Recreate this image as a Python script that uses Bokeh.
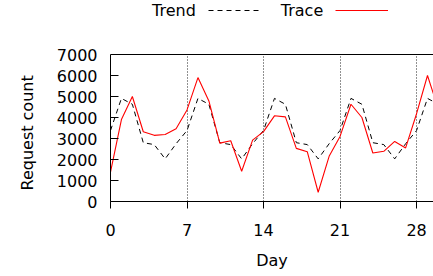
from bokeh.plotting import figure
from bokeh.models import FixedTicker, Range1d, Legend, LegendItem, Span, BoxAnnotation, Title
from bokeh.embed import file_html
from bokeh.resources import INLINE

days = list(range(31))
trace = [1400, 3900, 5000, 3320, 3150, 3190, 3460, 4360, 5900, 4790,
         2780, 2890, 1440, 2920, 3330, 4080, 4030, 2530, 2370, 440,
         2150, 3100, 4630, 4000, 2310, 2390, 2860, 2550, 4180, 6000, 4400]
trend = [3380, 4910, 4630, 2800, 2710, 2030, 2750,
         3380, 4910, 4630, 2800, 2710, 2030, 2750,
         3380, 4910, 4630, 2800, 2710, 2030, 2750,
         3380, 4910, 4630, 2800, 2710, 2030, 2750,
         3380, 4910, 4630]
x_ticks = [0, 7, 14, 21, 28]
y_ticks = [0, 1000, 2000, 3000, 4000, 5000, 6000, 7000]

FONT = "DejaVu Sans"

y_top = y_ticks[-1]
# frame reaches the canvas top; plotting area occupies 147 of 201 px
y_end = y_top * 201.0 / 147.0

p = figure(width=433, height=276, output_backend="svg", toolbar_location=None,
           x_range=Range1d(0, 29.55), y_range=Range1d(0, y_end),
           min_border_left=110, min_border_right=0, min_border_top=0,
           min_border_bottom=75)

r_trend = p.line(days, trend, line_color="black", line_width=1, line_dash="5 4")
r_trace = p.line(days, trace, line_color="#ff0000", line_width=1.1)
r_blank = p.line([], [], line_alpha=0)

p.outline_line_color = None
p.ygrid.grid_line_color = None
p.xgrid.ticker = FixedTicker(ticks=x_ticks)
p.xgrid.grid_line_color = "#222222"
p.xgrid.grid_line_dash = "1 2"
p.xgrid.grid_line_width = 1

p.xaxis.ticker = FixedTicker(ticks=x_ticks)
p.yaxis.ticker = FixedTicker(ticks=y_ticks)
p.yaxis.bounds = (0, y_top)
p.xaxis.axis_label = "Day"
for ax in (p.xaxis, p.yaxis):
    ax.axis_label_text_font = FONT
    ax.axis_label_text_font_size = "16px"
    ax.axis_label_text_font_style = "normal"
    ax.axis_label_text_color = "black"
    ax.major_label_text_font = FONT
    ax.major_label_text_font_size = "16px"
    ax.major_label_text_color = "black"
    ax.axis_line_color = "black"
    ax.axis_line_width = 1
    ax.major_tick_line_color = "black"
    ax.minor_tick_line_color = None

p.xaxis.major_tick_in = 0
p.xaxis.major_tick_out = 7
p.xaxis.major_label_standoff = 15
p.xaxis.axis_label_standoff = 12
p.yaxis.major_tick_in = 8
p.yaxis.major_tick_out = 0
p.yaxis.major_label_standoff = 13

# y-axis title, centred on the 0..7000 box rather than the whole frame
p.add_layout(Title(text="Request count", align="left", offset=11, standoff=30,
                   vertical_align="top", text_line_height=1.3,
                   text_font=FONT, text_font_size="16px", text_font_style="normal",
                   text_color="black"), "left")

# blank out the area above the plotting box, then draw its top border
p.add_layout(BoxAnnotation(bottom=y_top, fill_color="white", fill_alpha=1,
                           line_color=None))
p.add_layout(Span(location=y_top, dimension="width", line_color="black",
                  line_width=1))

# legend drawn as "label  sample"
legend = Legend(items=[
    LegendItem(label="Trend", renderers=[r_blank]),
    LegendItem(label="Trace", renderers=[r_trend]),
    LegendItem(label=" ", renderers=[r_trace]),
], orientation="horizontal", location=(-31, 181),
    glyph_width=53, glyph_height=20, label_standoff=20, spacing=12,
    padding=0, margin=0, border_line_color=None, background_fill_alpha=0,
    label_text_font=FONT, label_text_font_size="16px", label_text_color="black",
    label_height=20)
p.add_layout(legend, "center")

open("out.html", "w").write(file_html(p, INLINE))
